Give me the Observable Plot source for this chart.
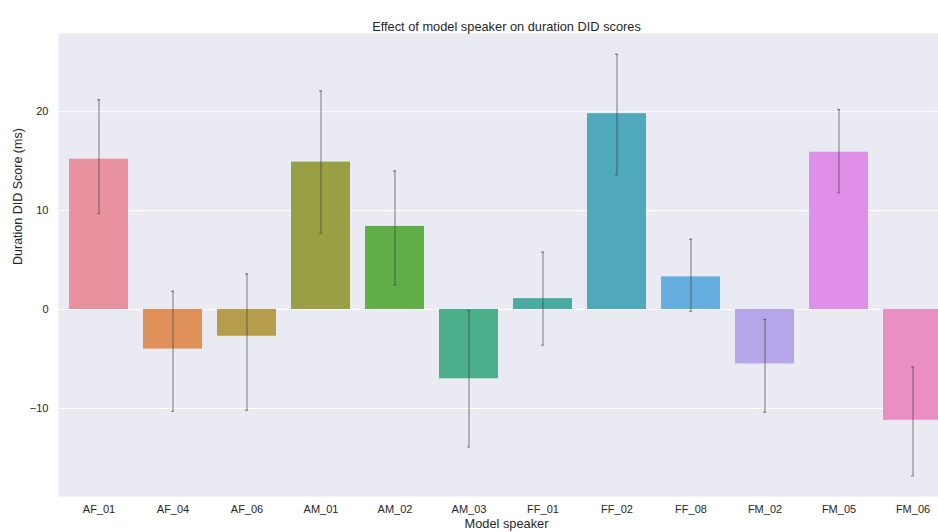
<!DOCTYPE html>
<html>
<head>
<meta charset="utf-8">
<script src="https://cdn.jsdelivr.net/npm/d3@7"></script>
<script src="https://cdn.jsdelivr.net/npm/@observablehq/plot@0.6"></script>
<style>
  html, body { margin: 0; padding: 0; background: #fff; overflow: hidden; width: 938px; height: 532px; }
  #chart svg { display: block; max-width: none !important; width: 960px; height: 532px; }
</style>
</head>
<body>
<div id="chart"></div>
<script>
const speakers = ["AF_01","AF_04","AF_06","AM_01","AM_02","AM_03","FF_01","FF_02","FF_08","FM_02","FM_05","FM_06"];
const means    = [15.2, -4.0, -2.7, 14.9, 8.4, -7.0, 1.1, 19.8, 3.3, -5.5, 15.9, -11.2];
const errLow   = [9.7, -10.3, -10.2, 7.7, 2.5, -13.9, -3.6, 13.6, -0.2, -10.4, 11.8, -16.8];
const errHigh  = [21.2, 1.85, 3.6, 22.1, 14.0, -0.1, 5.8, 25.8, 7.1, -1.0, 20.2, -5.8];
const colors   = ["#e8929f","#e0915a","#b59d4c","#99a044","#5fae48","#4aae8a","#4aaba2","#50a9bb","#65aee0","#b6a6e9","#df8fe8","#e98fc4"];
const yTicks   = [-10, 0, 10, 20];

const data = speakers.map((s, i) => ({speaker: s, mean: means[i], lo: errLow[i], hi: errHigh[i], color: colors[i]}));

const W = 960, H = 532;
const chart = Plot.plot({
  width: W,
  height: H,
  marginLeft: 58,
  marginRight: 6,
  marginTop: 33,
  marginBottom: 36,
  style: {fontFamily: "'Liberation Sans', Arial, sans-serif", fontSize: "11px", color: "#262626", background: "#fff", maxWidth: "none"},
  x: {domain: speakers, paddingInner: 0.2, paddingOuter: 0.1, label: null, tickSize: 0, tickPadding: 9},
  y: {domain: [-18.9, 27.9], label: null, ticks: yTicks, tickSize: 0, tickPadding: 10, tickFormat: d3.format("d")},
  marks: [
    Plot.frame({fill: "#eaeaf2", stroke: null}),
    Plot.gridY(yTicks, {stroke: "#ffffff", strokeOpacity: 1, strokeWidth: 1}),
    Plot.barY(data, {x: "speaker", y: "mean", fill: "color"}),
    Plot.ruleX(data, {x: "speaker", y1: "lo", y2: "hi", stroke: "#3c3c3c", strokeOpacity: 0.55, strokeWidth: 1.2}),
    Plot.tickY(data, {x: "speaker", y: "lo", stroke: "#3c3c3c", strokeOpacity: 0.55, strokeWidth: 1.2, insetLeft: 28, insetRight: 28}),
    Plot.tickY(data, {x: "speaker", y: "hi", stroke: "#3c3c3c", strokeOpacity: 0.55, strokeWidth: 1.2, insetLeft: 28, insetRight: 28}),
    Plot.text(["Effect of model speaker on duration DID scores"], {frameAnchor: "top", dy: -12, fontSize: 12.8, fill: "#262626"}),
    Plot.text(["Model speaker"], {frameAnchor: "bottom", dy: 31, fontSize: 12.8, fill: "#262626"}),
    Plot.text(["Duration DID Score (ms)"], {frameAnchor: "left", dx: -41, rotate: -90, fontSize: 12.5, fill: "#262626"})
  ]
});
document.getElementById("chart").appendChild(chart);
</script>
</body>
</html>
